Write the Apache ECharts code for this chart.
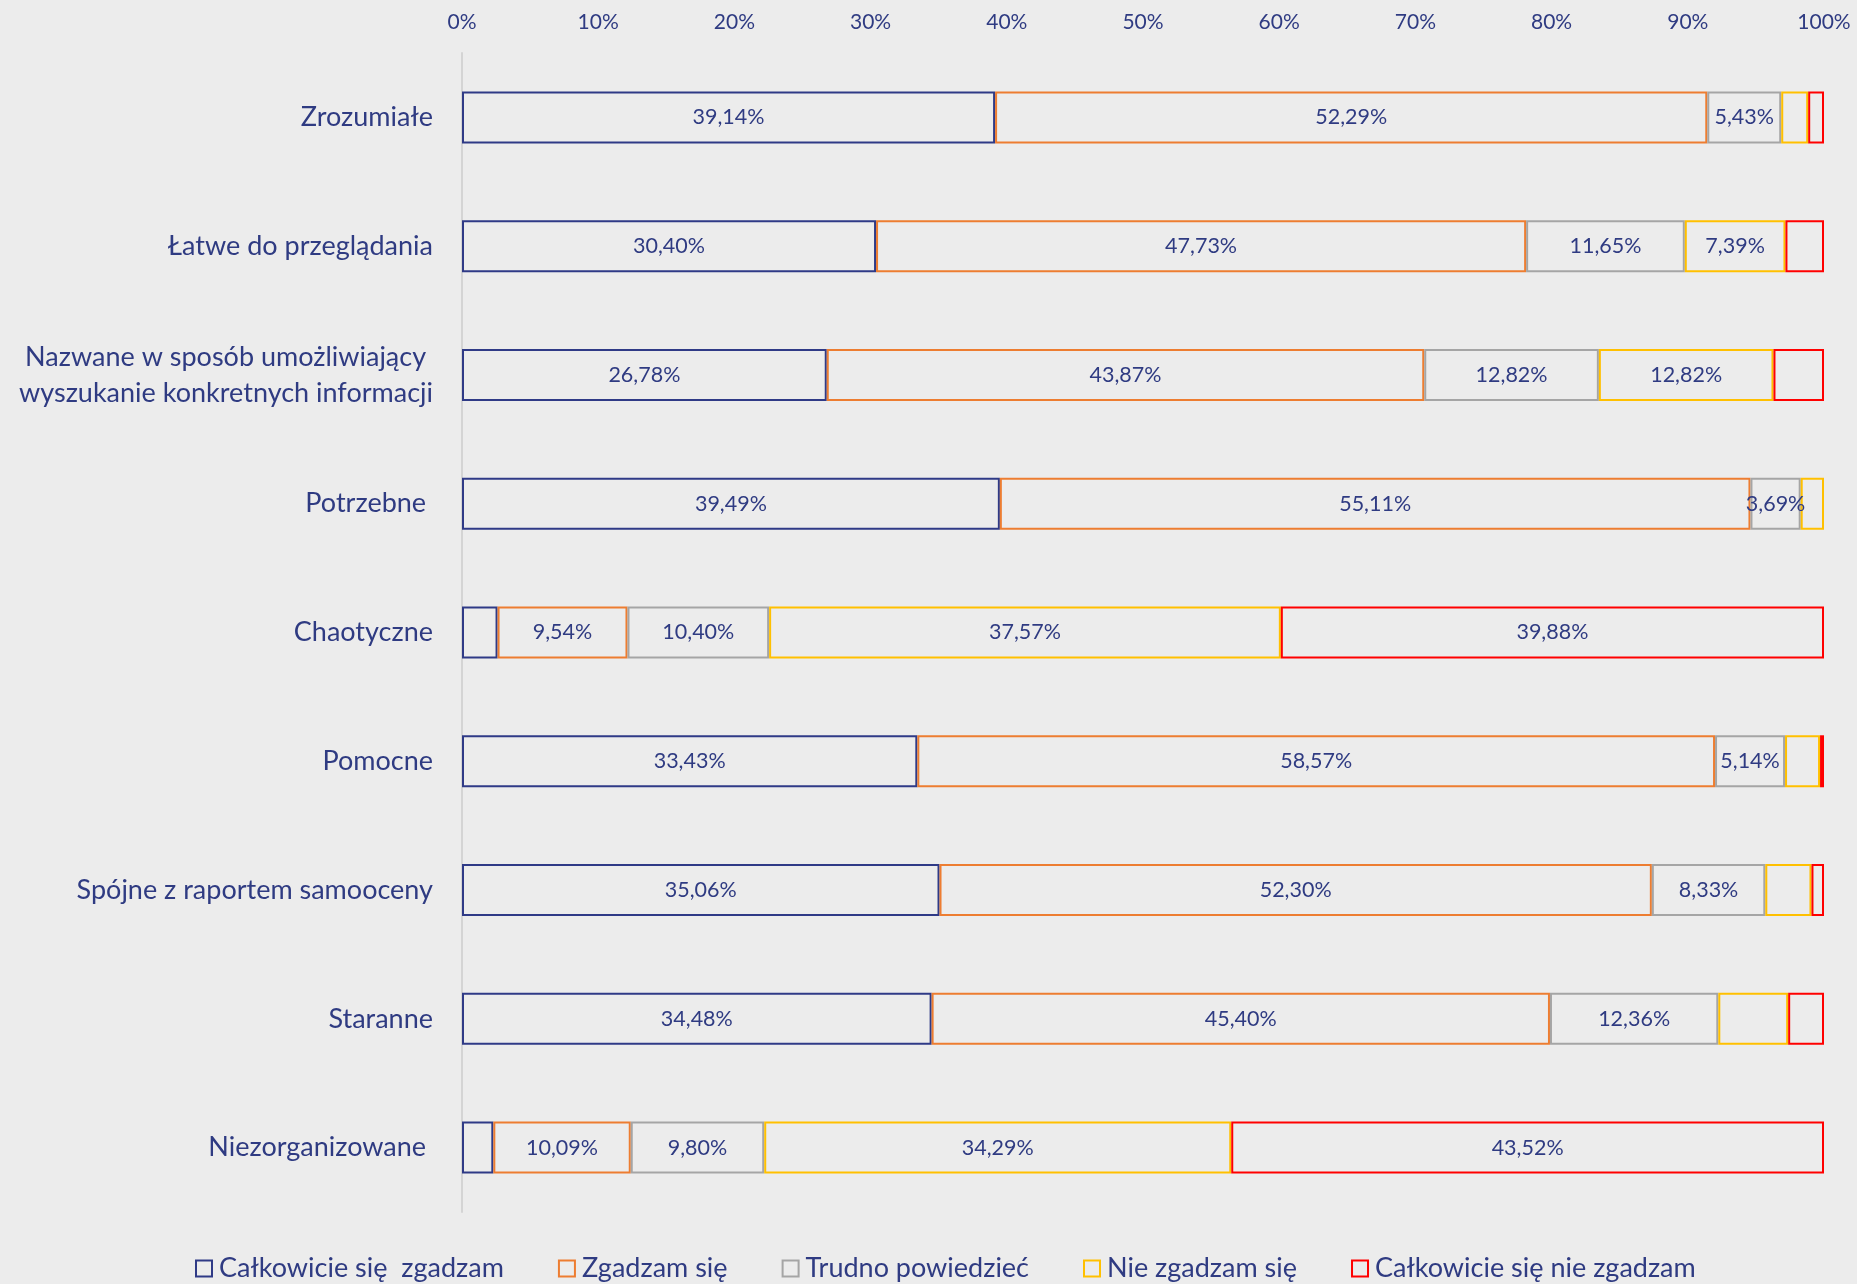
<!DOCTYPE html>
<html>
<head>
<meta charset="utf-8">
<script src="https://cdn.jsdelivr.net/npm/echarts@6/dist/echarts.min.js"></script>
<style>
html,body{margin:0;padding:0;background:#ececec;}
#chart{width:1857px;height:1284px;}
</style>
</head>
<body>
<div id="chart"></div>
<script>
const categories = [
  'Zrozumiałe',
  'Łatwe do przeglądania',
  'Nazwane w sposób umożliwiający \nwyszukanie konkretnych informacji',
  'Potrzebne ',
  'Chaotyczne',
  'Pomocne',
  'Spójne z raportem samooceny',
  'Staranne',
  'Niezorganizowane '
];
const seriesNames = ['Całkowicie się  zgadzam', 'Zgadzam się', 'Trudno powiedzieć', 'Nie zgadzam się', 'Całkowicie się nie zgadzam'];
const calkowicieZgadzam = [39.14, 30.40, 26.78, 39.49, 2.61, 33.43, 35.06, 34.48, 2.30];
const zgadzam = [52.29, 47.73, 43.87, 55.11, 9.54, 58.57, 52.30, 45.40, 10.09];
const trudno = [5.43, 11.65, 12.82, 3.69, 10.40, 5.14, 8.33, 12.36, 9.80];
const nieZgadzam = [1.98, 7.39, 12.82, 1.71, 37.57, 2.57, 3.39, 5.13, 34.29];
const calkowicieNie = [1.16, 2.83, 3.71, 0, 39.88, 0.29, 0.92, 2.63, 43.52];
// which values carry a visible data label (1 = shown)
const labelCalkowicieZgadzam = [1, 1, 1, 1, 0, 1, 1, 1, 0];
const labelZgadzam = [1, 1, 1, 1, 1, 1, 1, 1, 1];
const labelTrudno = [1, 1, 1, 1, 1, 1, 1, 1, 1];
const labelNieZgadzam = [0, 1, 1, 0, 1, 0, 0, 0, 1];
const labelCalkowicieNie = [0, 0, 0, 0, 1, 0, 0, 0, 1];
const xTicks = [0, 10, 20, 30, 40, 50, 60, 70, 80, 90, 100];

const values = [calkowicieZgadzam, zgadzam, trudno, nieZgadzam, calkowicieNie];
const labelFlags = [labelCalkowicieZgadzam, labelZgadzam, labelTrudno, labelNieZgadzam, labelCalkowicieNie];
const colors = ['#2f3a86', '#ed7d31', '#a5a5a5', '#ffc000', '#ff0000'];
const bg = '#ececec';
const textColor = '#2f3b82';
const font = 'Lato, "Open Sans", sans-serif';

const chart = echarts.init(document.getElementById('chart'));
const series = values.map((arr, si) => ({
  name: seriesNames[si],
  type: 'bar',
  stack: 'total',
  barWidth: 52,
  itemStyle: { color: bg, borderColor: colors[si], borderWidth: 2 },
  label: {
    show: true,
    position: 'inside',
    color: textColor,
    fontSize: 21.5,
    fontFamily: font,
    formatter: p => labelFlags[si][p.dataIndex] ? p.value.toFixed(2).replace('.', ',') + '%' : ''
  },
  emphasis: { disabled: true },
  data: arr.map(v => v === 0 ? '-' : v)
}));

chart.setOption({
  backgroundColor: bg,
  animation: false,
  textStyle: { fontFamily: font },
  grid: { left: 462, right: 33, top: 53, bottom: 72 },
  legend: {
    data: seriesNames,
    left: 190,
    top: 1250,
    icon: 'rect',
    itemWidth: 16,
    itemHeight: 16,
    itemGap: 54,
    textStyle: { color: textColor, fontSize: 27, fontFamily: font, padding: [0, 0, 0, 2] }
  },
  xAxis: {
    type: 'value',
    position: 'top',
    min: xTicks[0],
    max: xTicks[xTicks.length - 1],
    interval: 10,
    axisLine: { show: false },
    axisTick: { show: false },
    splitLine: { show: false },
    axisLabel: { color: textColor, fontSize: 21, margin: 20, formatter: '{value}%', fontFamily: font }
  },
  yAxis: {
    type: 'category',
    inverse: true,
    data: categories,
    axisLine: { show: true, lineStyle: { color: '#d4d4d4', width: 2 } },
    axisTick: { show: false },
    axisLabel: { color: textColor, fontSize: 27, margin: 29, lineHeight: 36, fontFamily: font, align: 'right' }
  },
  series: series
});
</script>
</body>
</html>
